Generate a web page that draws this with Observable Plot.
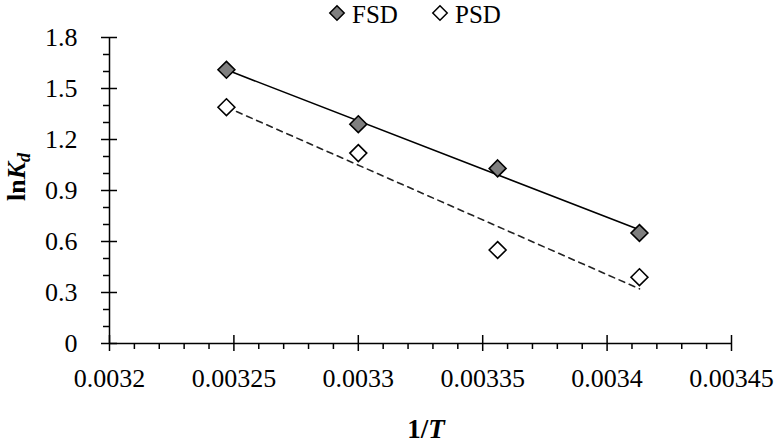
<!DOCTYPE html>
<html><head><meta charset="utf-8">
<script src="https://cdn.jsdelivr.net/npm/d3@7"></script>
<script src="https://cdn.jsdelivr.net/npm/@observablehq/plot@0.6"></script>
<style>
body{margin:0;background:#fff;}
#wrap{position:relative;width:774px;height:444px;}
</style></head><body><div id="wrap"></div>
<script>
// Data
const invT = [0.003247, 0.0033, 0.003356, 0.003413];
const fsd = [1.61, 1.29, 1.03, 0.65];
const psd = [1.39, 1.12, 0.55, 0.39];
const seriesNames = ["FSD", "PSD"];
const xTicks = [0.0032, 0.00325, 0.0033, 0.00335, 0.0034, 0.00345];
const yTicks = [0, 0.3, 0.6, 0.9, 1.2, 1.5, 1.8];
const xMinor = d3.range(1, 25).filter(i => i % 5 !== 0).map(i => 0.0032 + i * 0.00001);
const yMinor = d3.range(1, 18).filter(i => i % 3 !== 0).map(i => i * 0.1);

const fsdData = invT.map((x, i) => ({x, y: fsd[i]}));
const psdData = invT.map((x, i) => ({x, y: psd[i]}));

const FONT = "'Liberation Serif', 'Times New Roman', serif";
const sw = 1.5;

const chart = Plot.plot({
  width: 774, height: 444,
  marginTop: 37, marginBottom: 101, marginLeft: 109, marginRight: 43,
  style: {fontFamily: FONT, fontSize: "26px", color: "#000", background: "#fff"},
  x: {domain: [0.0032, 0.00345]},
  y: {domain: [0, 1.8]},
  marks: [
    // axis lines
    Plot.ruleX([xTicks[0]], {stroke: "#000", strokeWidth: sw}),
    Plot.ruleY([yTicks[0]], {stroke: "#000", strokeWidth: sw}),
    // y axis: outer major + labels, inner major, minor
    Plot.axisY({ticks: yTicks, tickSize: 8, tickPadding: 24, tickFormat: d => String(d), strokeWidth: sw, label: null}),
    Plot.axisY({ticks: yTicks, tickSize: 8, dx: 8, fill: "none", strokeWidth: sw, label: null}),
    Plot.axisY({ticks: yMinor, tickSize: 6, fill: "none", strokeWidth: sw, label: null}),
    // x axis
    Plot.axisX({ticks: xTicks, tickSize: 8, tickPadding: 17, tickFormat: d => String(d), strokeWidth: sw, label: null}),
    Plot.axisX({ticks: xTicks, tickSize: 8, dy: -8, fill: "none", strokeWidth: sw, label: null}),
    Plot.axisX({ticks: xMinor, tickSize: 6, fill: "none", strokeWidth: sw, label: null}),
    // trend lines
    Plot.linearRegressionY(fsdData, {x: "x", y: "y", ci: 0, stroke: "#000", strokeWidth: 1.6}),
    Plot.linearRegressionY(psdData, {x: "x", y: "y", ci: 0, stroke: "#222", strokeWidth: 1.6, strokeDasharray: "6,5"}),
    // points
    Plot.dot(fsdData, {x: "x", y: "y", symbol: "diamond2", r: 7.6, fill: "#7f7f7f", stroke: "#000", strokeWidth: 1.6}),
    Plot.dot(psdData, {x: "x", y: "y", symbol: "diamond2", r: 7.6, fill: "#fff", stroke: "#000", strokeWidth: 1.6})
  ]
});
document.getElementById("wrap").appendChild(chart);

const svg = d3.select(chart);
// Axis titles
const xt = svg.append("text").attr("x", 426).attr("y", 438).attr("text-anchor", "middle")
  .attr("font-family", FONT).attr("font-size", 27).attr("font-weight", "bold").attr("fill", "#000");
xt.append("tspan").text("1/");
xt.append("tspan").attr("font-style", "italic").text("T");

const yt = svg.append("text").attr("transform", "translate(25,177) rotate(-90)").attr("text-anchor", "middle")
  .attr("font-family", FONT).attr("font-size", 26).attr("font-weight", "bold").attr("fill", "#000");
yt.append("tspan").text("ln");
yt.append("tspan").attr("font-style", "italic").text("K");
yt.append("tspan").attr("font-style", "italic").attr("font-size", 18).attr("dy", 5).text("d");

// Legend
const legendItems = [
  {name: seriesNames[0], fill: "#7f7f7f", cx: 337, tx: 352},
  {name: seriesNames[1], fill: "#fff", cx: 440, tx: 455}
];
const dia = d3.symbol(d3.symbolDiamond2, Math.PI * 6.5 * 6.5)();
for (const it of legendItems) {
  svg.append("path").attr("d", dia).attr("transform", `translate(${it.cx},13)`)
    .attr("fill", it.fill).attr("stroke", "#000").attr("stroke-width", 1.5);
  svg.append("text").attr("x", it.tx).attr("y", 23).attr("text-anchor", "start")
    .attr("font-family", FONT).attr("font-size", 25).attr("fill", "#000").text(it.name);
}
</script>
</body></html>
